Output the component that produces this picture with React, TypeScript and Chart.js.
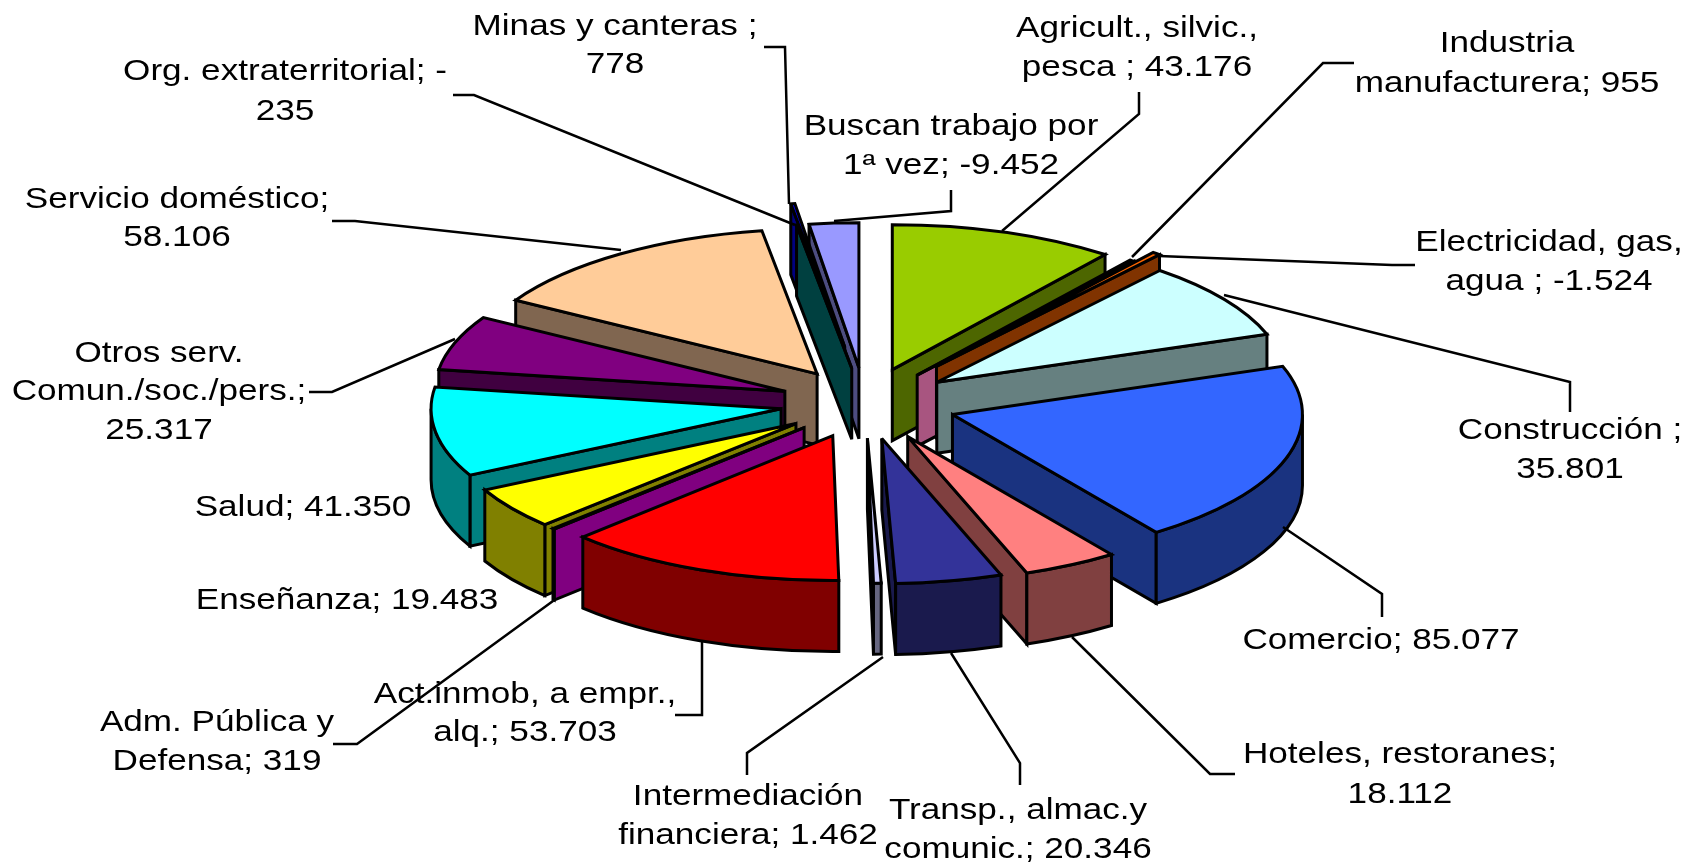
import React, { useEffect, useRef } from "react";
import { Chart, registerables } from "chart.js";

Chart.register(...registerables);

const categories = [
  "Agricult., silvic., pesca", "Industria manufacturera", "Electricidad, gas, agua",
  "Construcción", "Comercio", "Hoteles, restoranes", "Transp., almac.y comunic.",
  "Intermediación financiera", "Act.inmob, a empr., alq.", "Adm. Pública y Defensa",
  "Enseñanza", "Salud", "Otros serv. Comun./soc./pers.", "Servicio doméstico",
  "Org. extraterritorial", "Minas y canteras", "Buscan trabajo por 1ª vez",
];
const values = [43176, 955, -1524, 35801, 85077, 18112, 20346, 1462, 53703, 319, 19483, 41350, 25317, 58106, -235, 778, -9452];
const topColors = ["#99CC00", "#000000", "#FF6600", "#CCFFFF", "#3366FF", "#FF8080", "#333399", "#CCCCFF", "#FF0000", "#FF00FF", "#FFFF00", "#00FFFF", "#800080", "#FFCC99", "#008080", "#0000FF", "#9999FF"];
const wallColors = ["#4D6600", "#A85580", "#803300", "#668080", "#1A3380", "#804040", "#1A1A4D", "#666680", "#800000", "#800080", "#808000", "#008080", "#400040", "#806650", "#004040", "#000080", "#4D4D80"];
const explodeFractions = [0.243, 0.243, 0.325, 0.25, 0.262, 0.262, 0.25, 0.243, 0.243, 0.243, 0.243, 0.243, 0.243, 0.243, 0.243, 0.39, 0.243];

const RX = 350, RY = 145, DEPTH = 71;

type Label = { lines: string[]; x: number; y: number[] };
const labels: Label[] = [
  { lines: ["Agricult., silvic.,", "pesca ; 43.176"], x: 1137, y: [29, 68] },
  { lines: ["Industria", "manufacturera; 955"], x: 1507, y: [44, 84] },
  { lines: ["Electricidad, gas,", "agua ; -1.524"], x: 1549, y: [243, 282] },
  { lines: ["Construcción ;", "35.801"], x: 1570, y: [431, 470] },
  { lines: ["Comercio; 85.077"], x: 1381, y: [641] },
  { lines: ["Hoteles, restoranes;", "18.112"], x: 1400, y: [755, 795] },
  { lines: ["Transp., almac.y", "comunic.; 20.346"], x: 1018, y: [811, 850] },
  { lines: ["Intermediación", "financiera; 1.462"], x: 748, y: [797, 836] },
  { lines: ["Act.inmob, a empr.,", "alq.; 53.703"], x: 525, y: [695, 733] },
  { lines: ["Adm. Pública y", "Defensa; 319"], x: 217, y: [723, 762] },
  { lines: ["Enseñanza; 19.483"], x: 347, y: [601] },
  { lines: ["Salud; 41.350"], x: 303, y: [508] },
  { lines: ["Otros serv.", "Comun./soc./pers.;", "25.317"], x: 159, y: [354, 392, 431] },
  { lines: ["Servicio doméstico;", "58.106"], x: 177, y: [200, 238] },
  { lines: ["Org. extraterritorial; -", "235"], x: 285, y: [72, 112] },
  { lines: ["Minas y canteras ;", "778"], x: 615, y: [27, 65] },
  { lines: ["Buscan trabajo por", "1ª vez; -9.452"], x: 951, y: [127, 166] },
];

const leaders: number[][][] = [
  [[1139, 92], [1139, 114], [1002, 231]],
  [[1354, 63], [1323, 63], [1132, 257]],
  [[1415, 265], [1392, 265], [1159, 256]],
  [[1570, 412], [1570, 382], [1224, 295]],
  [[1382, 617], [1382, 594], [1283, 527]],
  [[1235, 774], [1210, 774], [1072, 637]],
  [[1020, 785], [1020, 763], [951, 653]],
  [[747, 775], [747, 753], [883, 657]],
  [[675, 715], [702, 715], [702, 640]],
  [[333, 744], [357, 744], [553, 601]],
  [[309, 392], [332, 392], [455, 339]],
  [[332, 221], [355, 221], [621, 250]],
  [[453, 95], [474, 95], [795, 225]],
  [[764, 47], [785, 47], [789, 204]],
  [[951, 190], [951, 211], [834, 221]],
];

const pie3d = {
  id: "pie3d",
  beforeDatasetDraw(chart: any, args: any) {
    const ctx: CanvasRenderingContext2D = chart.ctx;
    const arcs = args.meta.data as any[];
    const order = arcs.map((_, i) => i).sort((a, b) => {
      const m = (el: any) => Math.sin((el.startAngle + el.endAngle) / 2);
      return m(arcs[a]) - m(arcs[b]);
    });
    ctx.save();
    ctx.lineWidth = 3;
    ctx.lineJoin = "miter";
    ctx.miterLimit = 3;
    ctx.strokeStyle = "#000";
    for (const i of order) {
      const el = arcs[i];
      const a0: number = el.startAngle, a1: number = el.endAngle;
      const mid = (a0 + a1) / 2;
      const sx = RX / el.outerRadius, sy = RY / el.outerRadius;
      const e = explodeFractions[i] * el.outerRadius;
      const ax = el.x + Math.cos(mid) * e * sx;
      const ay = el.y + Math.sin(mid) * e * sy;
      const outer = (t: number) => [ax + RX * Math.cos(t), ay + RY * Math.sin(t)];
      const shape = (build: () => void, color: string) => {
        ctx.beginPath();
        build();
        ctx.closePath();
        ctx.fillStyle = color;
        ctx.fill();
        ctx.stroke();
      };
      const wall = (t: number) => shape(() => {
        const [ox, oy] = outer(t);
        ctx.moveTo(ax, ay);
        ctx.lineTo(ox, oy);
        ctx.lineTo(ox, oy + DEPTH);
        ctx.lineTo(ax, ay + DEPTH);
      }, wallColors[i]);
      if (Math.cos(a0) < 0) wall(a0);
      if (Math.cos(a1) > 0) wall(a1);
      const f0 = Math.max(a0, 0), f1 = Math.min(a1, Math.PI);
      if (f1 > f0) {
        shape(() => {
          ctx.ellipse(ax, ay, RX, RY, 0, f0, f1);
          ctx.ellipse(ax, ay + DEPTH, RX, RY, 0, f1, f0, true);
        }, wallColors[i]);
      }
      shape(() => {
        ctx.moveTo(ax, ay);
        ctx.ellipse(ax, ay, RX, RY, 0, a0, a1);
      }, topColors[i]);
    }
    ctx.restore();
    return false;
  },
  afterDraw(chart: any) {
    const ctx: CanvasRenderingContext2D = chart.ctx;
    ctx.save();
    ctx.strokeStyle = "#000";
    ctx.lineWidth = 2.5;
    for (const pts of leaders) {
      ctx.beginPath();
      pts.forEach(([x, y], i) => (i ? ctx.lineTo(x, y) : ctx.moveTo(x, y)));
      ctx.stroke();
    }
    ctx.fillStyle = "#000";
    ctx.font = '29.5px "Liberation Sans"';
    ctx.textAlign = "center";
    ctx.textBaseline = "middle";
    for (const l of labels) {
      l.lines.forEach((t, i) => {
        ctx.save();
        ctx.translate(l.x, l.y[i]);
        ctx.scale(1.19, 1);
        ctx.fillText(t, 0, 0);
        ctx.restore();
      });
    }
    ctx.restore();
  },
};

export default function App() {
  const ref = useRef<HTMLCanvasElement>(null);
  useEffect(() => {
    document.body.style.margin = "0";
    const chart = new Chart(ref.current!, {
      type: "pie",
      data: { labels: categories, datasets: [{ data: values, backgroundColor: topColors, borderColor: "#000", borderWidth: 2 }] },
      options: {
        responsive: false,
        animation: false,
        layout: { padding: { left: 32, bottom: 57 } },
        plugins: { legend: { display: false }, tooltip: { enabled: false } },
      },
      plugins: [pie3d],
    } as any);
    return () => chart.destroy();
  }, []);
  return <canvas ref={ref} width={1698} height={863} style={{ display: "block", background: "#fff" }} />;
}
